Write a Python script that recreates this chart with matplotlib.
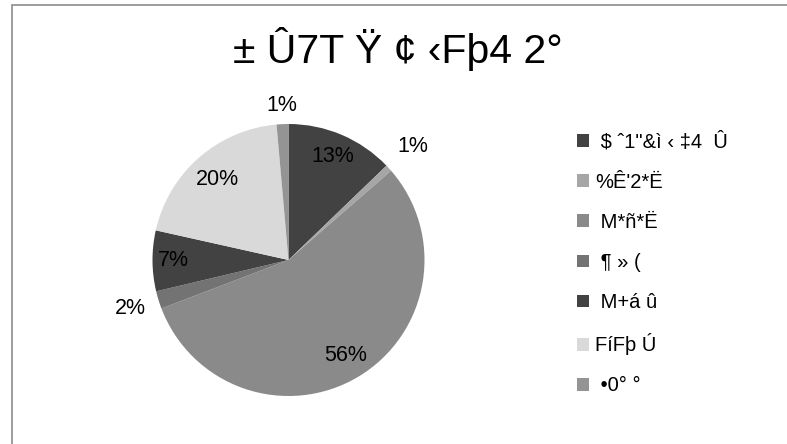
import numpy as np
import matplotlib
matplotlib.use("Agg")
import matplotlib.pyplot as plt
from matplotlib.patches import Rectangle, Patch

plt.rcParams['font.family'] = ['Liberation Sans', 'DejaVu Sans']

title = "± Û7T Ÿ ¢ ‹Fþ4 2°"
categories = [" $ ˆ1\"&ì ‹ ‡4  Û", "%Ê'2*Ë", " M*ñ*Ë", " ¶ » (", " M+á û", "FíFþ Ú", " •0° °"]
values = [12.8, 0.8, 55.6, 2.1, 7.2, 20.1, 1.4]
colors = ["#424242", "#a6a6a6", "#8a8a8a", "#737373", "#424242", "#d9d9d9", "#949494"]
label_radius = [0.83, 1.24, 0.82, 1.22, 0.85, 0.79, 1.14]

W, H = 787, 444
fig = plt.figure(figsize=(W / 100, H / 100), dpi=100)

# chart frame (extends past right / bottom edges)
fig.patches.append(Rectangle((11.5 / W, -0.1), 1.2, (H - 5.5) / H + 0.1,
                             transform=fig.transFigure, fill=False,
                             edgecolor="#8c8c8c", linewidth=1.2))

fig.text(398 / W, 1 - 63 / H, title, ha="center", va="baseline",
         fontsize=29.5, color="black")

cx, cy, r = 288.5, 260, 136
ax = fig.add_axes([(cx - r) / W, (H - cy - r) / H, 2 * r / W, 2 * r / H])
wedges, _ = ax.pie(values, colors=colors, startangle=90, counterclock=False,
                   radius=1, wedgeprops=dict(linewidth=0))
ax.set_xlim(-1, 1)
ax.set_ylim(-1, 1)
ax.axis("off")

total = sum(values)
for w, v, rf in zip(wedges, values, label_radius):
    ang = np.deg2rad((w.theta1 + w.theta2) / 2)
    ax.text(rf * np.cos(ang), rf * np.sin(ang), f"{v / total * 100:.0f}%",
            ha="center", va="center", fontsize=15.5, color="black", clip_on=False)

handles = [Patch(facecolor=c, edgecolor="none") for c in colors]
leg = fig.legend(handles, categories, loc="upper left",
                 bbox_to_anchor=(567 / W, 1 - 122 / H), frameon=False,
                 fontsize=14.5, handlelength=0.6, handleheight=0.6,
                 handletextpad=0.3, labelspacing=1.05, borderpad=0)

fig.savefig("out.png", dpi=100)
